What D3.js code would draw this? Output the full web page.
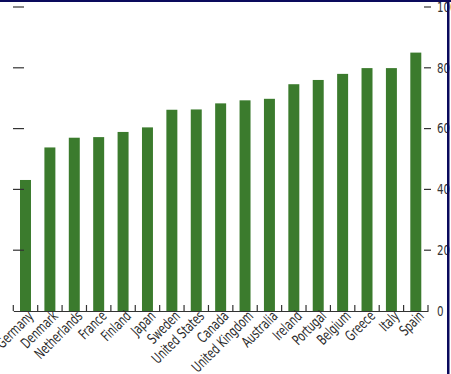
<!DOCTYPE html>
<html>
<head>
<meta charset="utf-8">
<script src="https://cdn.jsdelivr.net/npm/d3@7"></script>
<style>
  html, body { margin: 0; padding: 0; background: #fff; }
  svg { display: block; }
  text { font-family: "DejaVu Sans Condensed", "DejaVu Sans", sans-serif; font-stretch: condensed; }
</style>
</head>
<body>
<div id="chart"></div>
<script>
const categories = ["Germany","Denmark","Netherlands","France","Finland","Japan","Sweden","United States","Canada","United Kingdom","Australia","Ireland","Portugal","Belgium","Greece","Italy","Spain"];
const values = [43.1,53.8,57.0,57.2,58.9,60.4,66.2,66.3,68.3,69.3,69.8,74.6,76.0,78.0,79.9,79.9,85.0];
const yTicks = [0,20,40,60,80,100];

const W = 451, H = 374;
const svg = d3.select("#chart").append("svg").attr("width", W).attr("height", H);

const x = d3.scaleBand().domain(categories).range([13.3, 428]).paddingInner(0.55).paddingOuter(0.275);
const xb = d3.scaleBand().domain(categories).range([13.3, 428]);
const y = d3.scaleLinear().domain([0, 100]).range([311, 7]);

// bars
svg.append("g").selectAll("rect").data(values).join("rect")
  .attr("x", (d, i) => x(categories[i]))
  .attr("width", x.bandwidth())
  .attr("y", d => y(d))
  .attr("height", d => y(0) - y(d))
  .attr("fill", "#3b7b2d");

// left tick marks (no labels)
svg.append("g").selectAll("line").data(yTicks.filter(t => t > 0)).join("line")
  .attr("x1", 13).attr("x2", 24)
  .attr("y1", d => y(d)).attr("y2", d => y(d))
  .attr("stroke", "#333").attr("stroke-width", 1.2);

// right axis
const rightAxis = d3.axisRight(y).tickValues(yTicks).tickSize(0).tickPadding(0);
const ra = svg.append("g").attr("transform", "translate(437,0)").call(rightAxis);
ra.select(".domain").remove();
ra.selectAll("text").attr("font-size", 13.5).attr("fill", "#333")
  .style("font-family", '"DejaVu Sans Condensed", "DejaVu Sans", sans-serif')
  .style("font-stretch", "condensed").attr("x", 0)
  .attr("transform", "scale(0.85,1)");
svg.append("g").selectAll("line").data(yTicks.filter(t => t > 0)).join("line")
  .attr("x1", 424).attr("x2", 431)
  .attr("y1", d => y(d)).attr("y2", d => y(d))
  .attr("stroke", "#333").attr("stroke-width", 1.2);

// baseline with upward ticks
const bottomAxis = d3.axisBottom(xb).tickSize(0).tickFormat("");
const ba = svg.append("g").attr("transform", `translate(0,${y(0)})`).call(bottomAxis);
ba.select(".domain").attr("stroke", "#333").attr("stroke-width", 1.2);
ba.selectAll(".tick").remove();
const edges = categories.map(c => xb(c)).concat([xb.range()[1]]);
svg.append("g").selectAll("line").data(edges).join("line")
  .attr("x1", d => d).attr("x2", d => d)
  .attr("y1", y(0)).attr("y2", y(0) - 6)
  .attr("stroke", "#333").attr("stroke-width", 1.2);

// category labels
svg.append("g").selectAll("text").data(categories).join("text")
  .attr("transform", d => `translate(${xb(d) + xb.bandwidth() / 2 + 9},${y(0) + 6}) rotate(-45) scale(0.76,1)`)
  .attr("text-anchor", "end")
  .attr("font-size", 14.5)
  .attr("fill", "#2a2a2a")
  .text(d => d);

// frame (top and right)
svg.append("rect").attr("x", 0).attr("y", 0).attr("width", W).attr("height", 2).attr("fill", "#0a0a5c");
svg.append("rect").attr("x", 447).attr("y", 0).attr("width", 2.5).attr("height", H).attr("fill", "#0a0a5c");
</script>
</body>
</html>
